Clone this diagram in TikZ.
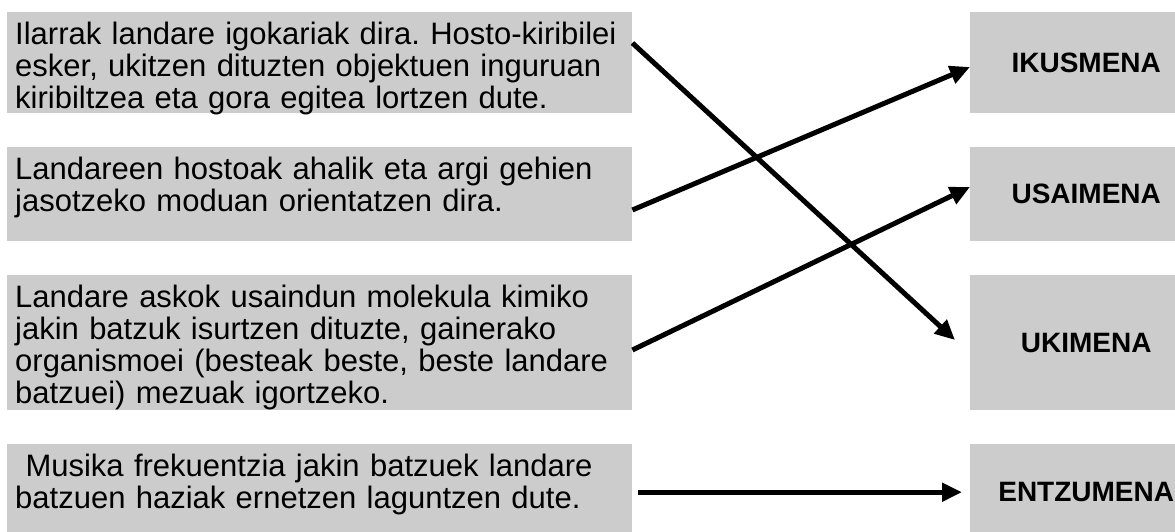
\documentclass[tikz,border=0pt]{standalone}
\usepackage{fontspec}
\setmainfont{Liberation Sans}
\usetikzlibrary{shapes,arrows.meta}
\definecolor{boxgray}{RGB}{204,204,204}
\tikzstyle{lbox} = [rectangle, fill=boxgray, anchor=north west, text width=609pt, inner xsep=8pt, inner ysep=0pt, align=left, text height=32pt, font=\fontsize{31}{32}\selectfont\frenchspacing]
\tikzstyle{rbox} = [rectangle, fill=boxgray, anchor=north west, minimum width=232pt, inner sep=0pt, font=\fontsize{28}{30}\selectfont\bfseries]
\tikzstyle{arr} = [line width=5pt, -{Triangle[length=20pt,width=18pt]}]

\begin{document}
\begin{tikzpicture}[x=1pt,y=-1pt]
		\useasboundingbox (0,0) rectangle (1175,532);
		\node[lbox,text depth=69pt](1) at (7,12){Ilarrak landare igokariak dira. Hosto-kiribilei\\ esker, ukitzen dituzten objektuen inguruan\\ kiribiltzea eta gora egitea lortzen dute.};
		\node[lbox,text depth=62pt](2) at (7,147){Landareen hostoak ahalik eta argi gehien\\ jasotzeko moduan orientatzen dira.};
		\node[lbox,text depth=103pt](3) at (7,275){Landare askok usaindun molekula kimiko\\ jakin batzuk isurtzen dituzte, gainerako\\ organismoei (besteak beste, beste landare\\ batzuei) mezuak igortzeko.};
		\node[lbox,text depth=64pt](4) at (7,444){\ Musika frekuentzia jakin batzuek landare\\ batzuen haziak ernetzen laguntzen dute.};
		\node[rbox,minimum height=101pt](ikus) at (970,12){IKUSMENA};
		\node[rbox,minimum height=94pt](usai) at (970,147){USAIMENA};
		\node[rbox,minimum height=135pt](ukim) at (970,275){UKIMENA};
		\node[rbox,minimum height=96pt](entz) at (970,444){ENTZUMENA};
		\draw[arr] ([yshift=-31pt]1.north east)--([xshift=-15pt,yshift=-65pt]ukim.north west);
		\draw[arr] ([yshift=-63pt]2.north east)--([yshift=-55pt]ikus.north west);
		\draw[arr] ([yshift=-75pt]3.north east)--([yshift=-40pt]usai.north west);
		\draw[arr] ([xshift=6pt]4.east)--([xshift=-8pt]entz.west);
		\end{tikzpicture}
\end{document}
